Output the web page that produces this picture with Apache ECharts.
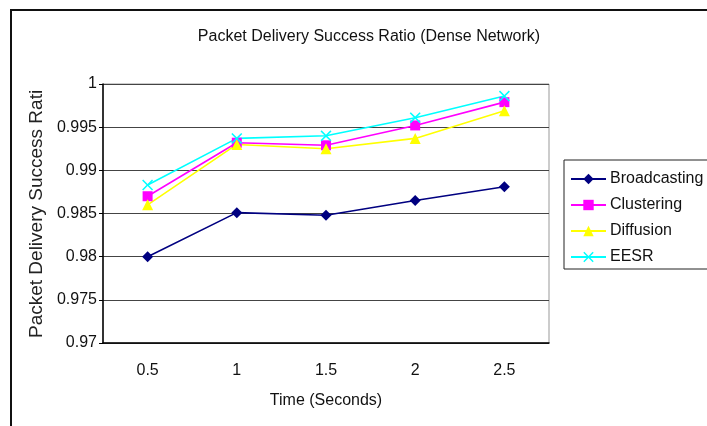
<!DOCTYPE html>
<html>
<head>
<meta charset="utf-8">
<script src="https://cdn.jsdelivr.net/npm/echarts@6/dist/echarts.min.js"></script>
<style>
html,body{margin:0;padding:0;background:#fff;}
#chart{width:707px;height:426px;}
</style>
</head>
<body>
<div id="chart"></div>
<script>
var categories = ['0.5', '1', '1.5', '2', '2.5'];
var broadcasting = [0.9800, 0.9851, 0.9848, 0.9865, 0.9881];
var clustering = [0.9870, 0.9932, 0.9929, 0.9952, 0.9979];
var diffusion = [0.9860, 0.9930, 0.9925, 0.9937, 0.9969];
var eesr = [0.9883, 0.9937, 0.9940, 0.9961, 0.9986];
var seriesNames = ['Broadcasting', 'Clustering', 'Diffusion', 'EESR'];
var titleText = 'Packet Delivery Success Ratio (Dense Network)';
var xName = 'Time (Seconds)';
var yName = 'Packet Delivery Success Ratio';

var narrow = '"Liberation Sans", Arial, sans-serif';
var xPath = 'path://M0,1L1,0L5,4L9,0L10,1L6,5L10,9L9,10L5,6L1,10L0,9L4,5Z';

function mk(name, data, color, symbol, size) {
  return {
    name: name, type: 'line', data: data,
    symbol: symbol, symbolSize: size, showSymbol: true,
    lineStyle: {color: color, width: 1.6},
    itemStyle: {color: color},
    animation: false
  };
}

var chart = echarts.init(document.getElementById('chart'), null, {renderer: 'canvas'});
chart.setOption({
  backgroundColor: '#fff',
  animation: false,
  title: {
    text: titleText, left: 364, top: 24, textAlign: 'center',
    textStyle: {fontFamily: narrow, fontSize: 16, fontWeight: 'normal', color: '#111'}
  },
  grid: {left: 103, right: 158, top: 84, bottom: 83, show: true, borderColor: '#999', borderWidth: 1},
  legend: {
    orient: 'vertical', left: 564, top: 160,
    padding: [11, 60, 4, 6], itemGap: 10,
    itemWidth: 35, itemHeight: 13,
    borderColor: '#222', borderWidth: 1,
    data: seriesNames,
    textStyle: {fontFamily: narrow, fontSize: 16, color: '#111', padding: [0, 0, 0, -1]}
  },
  xAxis: {
    type: 'category', data: categories, boundaryGap: true,
    name: xName, nameLocation: 'middle', nameGap: 50,
    nameTextStyle: {fontFamily: narrow, fontSize: 16, color: '#111'},
    axisLine: {lineStyle: {color: '#000', width: 1.5}},
    axisTick: {inside: true, length: 5, lineStyle: {color: '#000'}},
    axisLabel: {fontFamily: narrow, fontSize: 16, color: '#111', margin: 20},
    splitLine: {show: false}
  },
  yAxis: {
    type: 'value', min: 0.97, max: 1, interval: 0.005,
    axisLine: {show: true, lineStyle: {color: '#000', width: 1.5}},
    axisTick: {show: true, length: 4, lineStyle: {color: '#000'}},
    axisLabel: {fontFamily: narrow, fontSize: 16, color: '#111', margin: 6,
      formatter: function (v) { return String(+v.toFixed(3)); }},
    splitLine: {show: true, lineStyle: {color: '#444', width: 1}}
  },
  graphic: [{
    type: 'rect', shape: {x: 11, y: 10, width: 740, height: 460},
    style: {fill: 'none', stroke: '#111', lineWidth: 2}, silent: true
  }, {
    type: 'text', x: 37, y: 338, rotation: Math.PI / 2, silent: true,
    style: {
      text: yName, fill: '#222', align: 'left', verticalAlign: 'middle',
      font: '19px "Liberation Sans", Arial, sans-serif',
      width: 254, overflow: 'truncate', ellipsis: ''
    }
  }],
  series: [
    mk(seriesNames[0], broadcasting, '#000080', 'diamond', 11),
    mk(seriesNames[1], clustering, '#FF00FF', 'rect', 10),
    mk(seriesNames[2], diffusion, '#FFFF00', 'triangle', 11),
    mk(seriesNames[3], eesr, '#00FFFF', xPath, 11)
  ]
});
</script>
</body>
</html>
